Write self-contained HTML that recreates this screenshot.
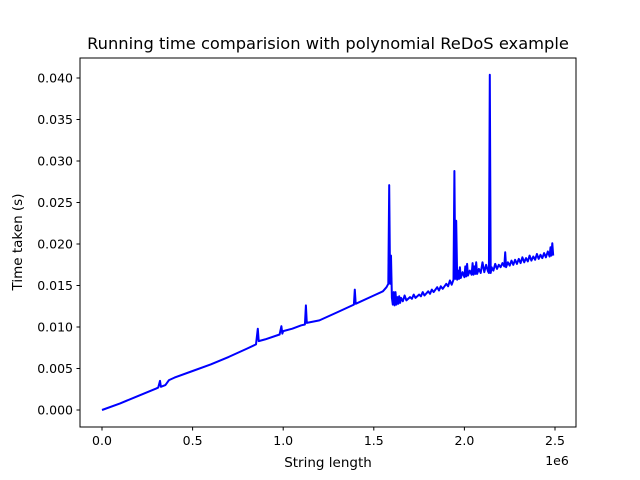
<!DOCTYPE html>
<html><head><meta charset="utf-8"><style>
body{margin:0;background:#fff}
svg{display:block;font-family:"DejaVu Sans","Liberation Sans",sans-serif}
</style></head><body>
<svg id="chart" width="640" height="480">
<rect x="0" y="0" width="640" height="480" fill="#fff"></rect>
<text x="328" y="49" text-anchor="middle" font-size="16.3">Running time comparision with polynomial ReDoS example</text>
<g id="plot"></g>
<rect x="80" y="58" width="496" height="369" fill="none" stroke="#000" stroke-width="1"></rect>
<g id="xt"></g><g id="yt"></g>
<text x="328" y="467" text-anchor="middle" font-size="13.5">String length</text>
<text x="557" y="465" text-anchor="middle" font-size="12.5">1e6</text>
<text transform="translate(22,242) rotate(-90)" text-anchor="middle" font-size="13.5">Time taken (s)</text>
</svg>
<script>
const xs=[0,0.1,0.2,0.3,0.31,0.32,0.325,0.35,0.37,0.4,0.5,0.6,0.7,0.8,0.85,0.86,0.865,0.9,0.98,0.99,0.995,1.0,1.05,1.1,1.12,1.125,1.13,1.2,1.3,1.39,1.395,1.4,1.5,1.55,1.57,1.58,1.585,1.59,1.595,1.6,1.605,1.61,1.615,1.62,1.625,1.63,1.635,1.64,1.645,1.65,1.66,1.67,1.68,1.7,1.71,1.72,1.73,1.75,1.76,1.77,1.78,1.8,1.81,1.82,1.83,1.85,1.86,1.87,1.88,1.9,1.91,1.92,1.93,1.94,1.945,1.95,1.955,1.96,1.965,1.97,1.975,1.98,1.99,2.0,2.005,2.01,2.015,2.02,2.03,2.04,2.045,2.05,2.055,2.06,2.065,2.07,2.08,2.09,2.1,2.11,2.12,2.13,2.135,2.14,2.145,2.15,2.16,2.17,2.18,2.19,2.2,2.21,2.22,2.225,2.23,2.24,2.25,2.26,2.27,2.28,2.29,2.3,2.31,2.32,2.33,2.34,2.35,2.36,2.37,2.38,2.39,2.4,2.41,2.42,2.43,2.44,2.45,2.46,2.47,2.475,2.48,2.485,2.49];
const ys=[0,0.0008,0.0017,0.0026,0.0027,0.0035,0.0028,0.003,0.0036,0.0039,0.0047,0.0055,0.0064,0.0074,0.0079,0.0098,0.0083,0.0085,0.0091,0.0101,0.0092,0.0095,0.0098,0.0102,0.0103,0.0126,0.0105,0.0108,0.0118,0.0127,0.0145,0.0128,0.0138,0.0143,0.0148,0.0152,0.0271,0.0152,0.0186,0.0135,0.0127,0.0142,0.0126,0.0142,0.0127,0.0136,0.0128,0.0137,0.0129,0.0135,0.0131,0.0138,0.0132,0.0136,0.0134,0.0139,0.0135,0.0139,0.0137,0.0142,0.0138,0.0143,0.014,0.0145,0.0142,0.0148,0.0144,0.0149,0.0146,0.0152,0.0149,0.0156,0.0151,0.0157,0.0288,0.0158,0.0228,0.0157,0.0168,0.0158,0.0172,0.0159,0.0166,0.016,0.0173,0.0161,0.0176,0.0162,0.0168,0.0163,0.0177,0.0163,0.0173,0.0164,0.0178,0.0164,0.017,0.0165,0.0178,0.0166,0.0175,0.0167,0.0165,0.0404,0.0165,0.0172,0.0168,0.0176,0.017,0.0175,0.0172,0.0177,0.0173,0.019,0.0172,0.0178,0.0174,0.018,0.0175,0.0181,0.0176,0.0182,0.0177,0.0184,0.0178,0.0183,0.0179,0.0186,0.018,0.0185,0.0181,0.0188,0.0182,0.0187,0.0183,0.0189,0.0184,0.0191,0.0185,0.0196,0.0186,0.0201,0.0186,0.0192];
const xTicks=[0,0.5,1.0,1.5,2.0,2.5];
const xTickLabels=["0.0","0.5","1.0","1.5","2.0","2.5"];
const yTicks=[0,0.005,0.01,0.015,0.02,0.025,0.03,0.035,0.04];
const yTickLabels=["0.000","0.005","0.010","0.015","0.020","0.025","0.030","0.035","0.040"];
const NS="http://www.w3.org/2000/svg";
function X(v){return 102+v*181.2;}
function Y(v){return 410-v*8300;}
let d="";
xs.forEach((x,i)=>{d+=(i?"L":"M")+X(x).toFixed(1)+","+Y(ys[i]).toFixed(1);});
const p=document.createElementNS(NS,"path");
p.setAttribute("d",d);p.setAttribute("fill","none");p.setAttribute("stroke","#0000ff");p.setAttribute("stroke-width","2");p.setAttribute("stroke-linejoin","round");


document.getElementById("plot").appendChild(p);
const xt=document.getElementById("xt");
xTicks.forEach((t,i)=>{
 const l=document.createElementNS(NS,"line");
 l.setAttribute("x1",X(t));l.setAttribute("x2",X(t));l.setAttribute("y1",427);l.setAttribute("y2",430.5);l.setAttribute("stroke","#000");
 
 
 xt.appendChild(l);
 const s=document.createElementNS(NS,"text");
 s.setAttribute("x",X(t));s.setAttribute("y",445);s.setAttribute("text-anchor","middle");s.setAttribute("font-size","12.5");s.textContent=xTickLabels[i];
 
 
 xt.appendChild(s);
});
const yt=document.getElementById("yt");
yTicks.forEach((t,i)=>{
 const l=document.createElementNS(NS,"line");
 l.setAttribute("x1",76.5);l.setAttribute("x2",80);l.setAttribute("y1",Y(t));l.setAttribute("y2",Y(t));l.setAttribute("stroke","#000");
 
 
 yt.appendChild(l);
 const s=document.createElementNS(NS,"text");
 s.setAttribute("x",73);s.setAttribute("y",Y(t)+4.5);s.setAttribute("text-anchor","end");s.setAttribute("font-size","12.5");s.textContent=yTickLabels[i];
 
 
 yt.appendChild(s);
});
</script>
</body></html>
